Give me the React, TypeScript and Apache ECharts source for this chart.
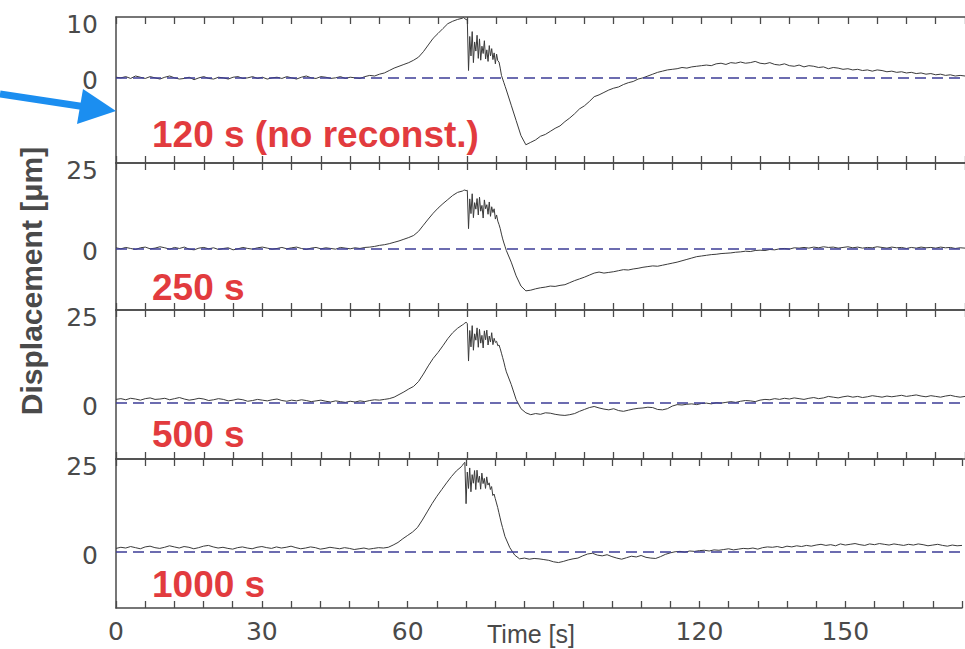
import React, { useEffect, useRef } from "react";
import * as echarts from "echarts";

// Sample instants (s)
const times: number[] = [
  0, 1, 2, 3, 4, 5, 6, 7, 8, 9, 10, 11, 12, 13, 14, 15, 16, 17, 18, 19,
  20, 21, 22, 23, 24, 25, 26, 27, 28, 29, 30, 31, 32, 33, 34, 35, 36, 37, 38, 39,
  40, 41, 42, 43, 44, 45, 46, 47, 48, 49, 50, 51, 52, 53, 54, 55, 56, 57, 58, 59,
  60, 61, 62, 63, 64, 65, 66, 67, 68, 69, 70, 71,
  71.25, 71.5, 71.75, 72, 72.25, 72.5, 72.75, 73, 73.25, 73.5, 73.75, 74,
  74.25, 74.5, 74.75, 75, 75.25, 75.5, 75.75, 76, 76.25, 76.5, 76.75, 77,
  77.25, 77.5, 77.75, 78, 78.25, 78.5, 78.75, 79, 79.25, 79.5, 79.75, 80,
  81, 82, 83, 84, 85, 86, 87, 88, 89, 90, 91, 92, 93, 94, 95, 96, 97, 98, 99, 100,
  101, 102, 103, 104, 105, 106, 107, 108, 109, 110, 111, 112, 113, 114, 115, 116, 117, 118, 119, 120,
  121, 122, 123, 124, 125, 126, 127, 128, 129, 130, 131, 132, 133, 134, 135, 136, 137, 138, 139, 140,
  141, 142, 143, 144, 145, 146, 147, 148, 149, 150, 151, 152, 153, 154, 155, 156, 157, 158, 159, 160,
  161, 162, 163, 164, 165, 166, 167, 168, 169, 170, 171, 172, 173, 174,
];

// Displacement (µm), 120 s (no reconst.)
const disp120: number[] = [
  0.1, 0.0, 0.2, -0.1, 0.3, 0.1, -0.1, 0.2, 0.0, -0.2,
  0.1, 0.3, 0.0, -0.2, -0.1, 0.1, -0.3, 0.0, 0.2, -0.1,
  -0.2, 0.1, 0.0, -0.2, 0.1, 0.2, -0.1, 0.0, 0.2, -0.1,
  0.1, -0.2, 0.0, 0.1, -0.1, 0.2, 0.0, -0.2, 0.1, 0.3,
  0.0, -0.1, 0.2, 0.1, -0.1, 0.0, 0.2, -0.1, 0.1, 0.0,
  -0.1, 0.2, 0.4, 0.3, 0.6, 0.8, 1.2, 1.6, 1.9, 2.2,
  2.5, 2.9, 3.4, 4.3, 5.4, 6.5, 7.3, 8.1, 8.9, 9.3,
  9.6, 9.8,
  9.9, 9.7, 9.6, 9.5, 1.2, 6.8, 3.6, 7.6, 2.5, 5.9, 4.4, 7.0,
  3.2, 6.4, 2.9, 5.2, 4.0, 6.1, 3.1, 4.6, 2.7, 5.3, 3.6, 4.8,
  3.0, 4.1, 2.3, 3.9, 2.8, 2.6, 1.6, 0.4, -0.2, -0.8, -1.4, -2.0,
  -4.5, -7.0, -9.5, -11.0, -10.6, -10.2, -9.6, -9.3, -8.8, -8.3,
  -7.9, -7.2, -6.6, -5.9, -5.1, -4.6, -3.9, -3.1, -2.8, -2.4,
  -2.0, -1.7, -1.5, -1.1, -0.8, -0.6, -0.2, 0.0, 0.3, 0.6,
  0.9, 1.1, 1.3, 1.4, 1.5, 1.7, 1.6, 1.8, 1.9, 2.0,
  2.1, 2.0, 2.3, 2.4, 2.2, 2.5, 2.4, 2.6, 2.4, 2.5,
  2.7, 2.4, 2.3, 2.5, 2.2, 2.1, 2.3, 2.0, 1.9, 2.1,
  1.8, 2.0, 1.9, 1.7, 1.8, 1.5, 1.7, 1.6, 1.4, 1.5,
  1.3, 1.4, 1.2, 1.3, 1.1, 1.3, 1.2, 1.0, 1.1, 0.9,
  1.0, 0.8, 0.9, 0.7, 0.8, 0.6, 0.7, 0.5, 0.6, 0.4,
  0.5, 0.3, 0.4, 0.3,
];

// 250 s
const disp250: number[] = [
  0.2, -0.1, 0.3, 0.0, -0.3, 0.2, 0.4, -0.1, 0.1, 0.5,
  0.2, -0.2, 0.3, 0.0, 0.4, -0.2, -0.4, 0.1, 0.3, -0.1,
  0.2, -0.3, 0.0, 0.2, -0.4, -0.1, 0.3, 0.0, -0.2, 0.2,
  0.4, 0.1, -0.2, 0.0, 0.3, -0.1, 0.2, 0.4, 0.0, -0.3,
  0.1, 0.3, -0.1, 0.2, 0.0, -0.2, 0.3, 0.1, -0.1, 0.2,
  0.0, 0.3, 0.4, 0.6, 0.9, 1.1, 1.4, 1.8, 2.2, 2.7,
  3.2, 3.8, 5.0, 6.8, 8.6, 10.3, 11.8, 13.1, 14.3, 15.5,
  16.4, 16.8,
  17.0, 17.1, 16.9, 17.0, 5.8, 14.5, 10.2, 16.0, 9.0, 13.4, 11.5, 14.6,
  9.8, 15.0, 10.9, 12.6, 8.9, 14.2, 11.6, 12.8, 10.0, 13.6, 9.4, 12.2,
  10.5, 11.6, 8.6, 9.8, 8.0, 7.0, 5.8, 4.2, 2.8, 1.6, 0.5, -0.6,
  -4.0, -8.0, -11.0, -12.4, -12.2, -11.8, -11.5, -11.3, -11.0, -11.1,
  -10.8, -10.6, -10.0, -9.4, -8.9, -8.4, -7.8, -7.2, -6.9, -7.2,
  -7.0, -6.8, -6.5, -6.2, -6.3, -6.0, -5.8, -5.5, -5.3, -5.1,
  -5.2, -4.9, -4.6, -4.3, -4.0, -3.6, -3.2, -2.8, -2.4, -2.2,
  -2.0, -1.8, -1.7, -1.5, -1.4, -1.3, -1.1, -1.0, -0.8, -0.9,
  -0.6, -0.5, -0.6, -0.3, -0.4, -0.1, 0.0, -0.2, 0.2, 0.1,
  0.3, 0.1, 0.4, 0.2, 0.5, 0.3, 0.4, 0.1, 0.3, 0.5,
  0.2, 0.4, 0.1, 0.3, 0.2, 0.5, 0.3, 0.1, 0.4, 0.2,
  0.3, 0.0, 0.3, 0.1, 0.4, 0.2, 0.3, 0.1, 0.4, 0.2,
  0.3, 0.0, 0.2, 0.1,
];

// 500 s
const disp500: number[] = [
  1.0, 1.2, 0.9, 1.3, 1.1, 0.8, 1.2, 1.4, 1.0, 1.1,
  1.3, 0.9, 1.2, 1.5, 1.1, 0.8, 1.0, 1.3, 1.1, 0.7,
  0.9, 1.2, 1.0, 0.6, 0.8, 1.1, 0.9, 0.5, 0.7, 1.0,
  0.8, 0.6, 0.9, 1.1, 0.7, 0.5, 0.8, 0.6, 0.9, 0.7,
  0.4, 0.6, 0.8, 0.5, 0.3, 0.6, 0.4, 0.2, 0.5, 0.3,
  0.6, 0.4, 0.7, 0.9, 0.8, 1.0, 1.2, 1.6, 2.3, 3.0,
  3.8, 4.5, 5.8, 7.8, 10.0, 12.0, 13.6, 15.4, 17.3, 18.9,
  20.1, 21.0,
  21.2, 21.5, 21.7, 21.4, 11.3, 19.5, 15.1, 20.8, 14.2, 18.6, 16.9, 20.2,
  15.0, 19.8, 16.1, 18.2, 14.8, 19.4, 17.0, 19.6, 15.6, 18.0, 16.4, 18.9,
  15.7, 17.4, 16.3, 16.6, 15.4, 15.6, 14.6, 13.4, 12.2, 11.0, 9.6, 8.4,
  5.0, 1.0, -1.5, -2.6, -3.1, -2.8, -3.0, -2.6, -2.7, -3.0,
  -3.2, -3.3, -3.1, -2.8, -2.2, -1.7, -1.2, -0.9, -1.3, -1.6,
  -1.8, -1.5, -2.0, -2.2, -1.9, -1.6, -1.4, -1.3, -1.1, -1.2,
  -1.7, -1.8, -1.5, -0.8, -0.4, -0.5, -0.3, -0.2, -0.4, -0.1,
  0.0, -0.2, 0.1, 0.0, 0.2, 0.4, 0.2, 0.5, 0.7, 0.6,
  0.4, 0.8, 1.0, 0.9, 1.2, 1.0, 1.3, 1.1, 1.4, 1.2,
  1.0, 1.3, 1.5, 1.2, 1.4, 1.8, 1.6, 1.4, 1.7, 1.9,
  1.6, 1.8, 1.5, 1.7, 2.0, 1.8, 1.6, 1.9, 1.7, 1.9,
  2.1, 1.8, 2.0, 2.2, 1.9, 1.7, 2.0, 1.8, 1.6, 1.9,
  2.1, 1.8, 1.6, 1.8,
];

// 1000 s
const disp1000: number[] = [
  1.0, 1.3, 1.1, 1.5, 1.2, 0.9, 1.4, 1.6, 1.2, 1.0,
  1.3, 1.7, 1.4, 1.1, 1.5, 1.3, 0.9, 1.2, 1.6, 1.8,
  1.4, 1.1, 1.3, 1.0, 0.8, 1.2, 1.4, 1.1, 0.9, 1.3,
  1.5, 1.2, 1.0, 1.4, 1.1, 1.3, 1.6, 1.2, 0.9, 1.1,
  1.4, 1.2, 0.8, 1.0, 1.3, 1.1, 0.9, 1.2, 1.0, 0.7,
  0.9, 1.1, 0.8, 1.0, 1.2, 1.1, 1.3, 1.9, 2.6, 3.6,
  4.5, 5.4, 6.6, 8.6, 10.8, 13.0, 15.0, 16.8, 18.6, 20.3,
  21.8, 22.9,
  23.3, 23.8, 24.1, 13.0, 21.5, 17.1, 22.6, 16.2, 20.8, 18.5, 21.9, 16.8,
  22.0, 18.7, 20.4, 16.9, 21.2, 18.4, 19.8, 17.1, 20.2, 18.0, 18.6, 16.8,
  17.6, 15.2, 15.6, 14.4, 13.2, 12.0, 10.6, 9.2, 7.8, 6.6, 5.4, 4.2,
  1.2, -0.8, -1.8, -1.6, -1.9, -1.7, -1.8, -2.0, -2.2, -2.6,
  -2.8, -2.5, -2.1, -1.8, -1.6, -1.0, -0.5, -0.3, -0.8, -1.0,
  -0.7, -1.2, -1.6, -1.9, -1.5, -1.1, -1.3, -0.9, -1.4, -1.6,
  -1.7, -1.2, -0.6, -0.2, 0.1, 0.2, 0.0, 0.3, 0.2, 0.4,
  0.5, 0.3, 0.6, 0.5, 0.7, 0.9, 0.6, 0.8, 1.0, 0.9,
  1.1, 0.8, 1.2, 1.4, 1.3, 1.5, 1.2, 1.6, 1.4, 1.7,
  1.5, 1.8, 1.6, 1.9, 2.1, 1.8, 2.0, 1.7, 2.2, 1.9,
  2.1, 2.3, 2.0, 1.8, 2.2, 2.0, 2.3, 2.1, 1.9, 2.2,
  2.0, 1.8, 2.1, 1.9, 2.2, 2.0, 1.7, 1.9, 2.1, 1.8,
  1.6, 1.9, 1.7, 1.8,
];

const panelSeries = [disp120, disp250, disp500, disp1000];
const panelLabels = ["120 s (no reconst.)", "250 s", "500 s", "1000 s"];
const yMins = [-14, -18, -15, -15];
const yMaxs = [10, 25, 25, 25];
const yTickValues = [[0, 10], [0, 25], [0, 25], [0, 25]];
const xTickLabels = [0, 30, 60, 120, 150];
const xMin = 0;
const xMax = 174;
const xTickStep = 6;
const xTitle = "Time [s]";
const yTitle = "Displacement [\u03bcm]";

const AX = "#4a4a4a";
const TXT = "#4a4a4a";
const RED = "#e23b3e";
const BLUE = "#1b8ef0";
const DASH = "#3c3c96";
const NUMFONT = "DejaVu Sans";
const FONT = "Liberation Sans";

const gridTops = [17, 163, 310, 459];
const gridHeights = [146, 147, 149, 149];
const labelYs = [134, 287, 434, 584];

export default function App() {
  const ref = useRef<HTMLDivElement>(null);
  useEffect(() => {
    if (!ref.current) return;
    const chart = echarts.init(ref.current, undefined, { renderer: "svg" });

    const grids: any[] = [];
    const xAxes: any[] = [];
    const yAxes: any[] = [];
    const series: any[] = [];

    panelSeries.forEach((vals, i) => {
      grids.push({ left: 116, right: 0, top: gridTops[i], height: gridHeights[i] });
      const baseX = {
        type: "value",
        gridIndex: i,
        min: xMin,
        max: xMax,
        interval: xTickStep,
        axisLine: { show: true, onZero: false, lineStyle: { color: AX, width: 1.5 } },
        axisTick: { show: true, inside: true, length: 7, lineStyle: { color: AX, width: 1.3 } },
        splitLine: { show: false },
      };
      xAxes.push({
        ...baseX,
        position: "bottom",
        axisLabel: {
          show: i === panelSeries.length - 1,
          margin: 11,
          fontSize: 25,
          fontFamily: NUMFONT,
          color: TXT,
          formatter: (v: number) => (xTickLabels.indexOf(v) >= 0 ? String(v) : ""),
        },
      });
      xAxes.push({ ...baseX, position: "top", axisLabel: { show: false } });
      yAxes.push({
        type: "value",
        gridIndex: i,
        min: yMins[i],
        max: yMaxs[i],
        axisLine: { show: true, onZero: false, lineStyle: { color: AX, width: 1.5 } },
        axisTick: { show: false },
        splitLine: { show: false },
        axisLabel: { show: false },
      });
      const n = Math.min(times.length, vals.length);
      const data: number[][] = [];
      for (let k = 0; k < n; k++) data.push([times[k], vals[k]]);
      series.push({
        type: "line",
        xAxisIndex: i * 2,
        yAxisIndex: i,
        data,
        showSymbol: false,
        symbol: "none",
        lineStyle: { color: "#3a3a3a", width: 1 },
        z: 3,
        markLine: {
          silent: true,
          symbol: "none",
          label: { show: false },
          lineStyle: { color: DASH, type: [11, 6], width: 1.5 },
          data: [{ yAxis: 0 }],
          z: 4,
        },
      });
    });

    const baseGraphics: any[] = [
      {
        type: "line",
        shape: { x1: 0, y1: 94, x2: 86, y2: 107 },
        style: { stroke: BLUE, lineWidth: 7 },
        z: 100,
      },
      {
        type: "polygon",
        shape: { points: [[83, 89], [116, 111], [77, 124]] },
        style: { fill: BLUE },
        z: 100,
      },
      {
        type: "text",
        x: 31,
        y: 281,
        rotation: Math.PI / 2,
        style: {
          text: yTitle,
          fontSize: 30,
          fontWeight: "bold",
          fontFamily: FONT,
          fill: TXT,
          align: "center",
          verticalAlign: "middle",
        },
        z: 100,
      },
      {
        type: "text",
        x: 531,
        y: 634,
        style: {
          text: xTitle,
          fontSize: 25,
          fontFamily: FONT,
          fill: TXT,
          align: "center",
          verticalAlign: "middle",
        },
        z: 100,
      },
      ...panelLabels.map((t, i) => ({
        type: "text",
        x: 152,
        y: labelYs[i],
        style: {
          text: t,
          fontSize: 37,
          fontWeight: "bold",
          fontFamily: FONT,
          fill: RED,
          align: "left",
          verticalAlign: "middle",
        },
        z: 100,
      })),
    ];

    const option: any = {
      animation: false,
      backgroundColor: "#ffffff",
      grid: grids,
      xAxis: xAxes,
      yAxis: yAxes,
      series,
      graphic: baseGraphics,
    };
    chart.setOption(option);

    // y tick labels placed through the axes' own scales
    const yLabelGraphics: any[] = [];
    yTickValues.forEach((vals, i) => {
      const px = chart.convertToPixel({ xAxisIndex: i * 2 } as any, xMin) as number;
      vals.forEach((v) => {
        const py = chart.convertToPixel({ yAxisIndex: i } as any, v) as number;
        yLabelGraphics.push({
          type: "text",
          x: px - 18,
          y: py + (v === 0 ? 3 : 7),
          style: {
            text: String(v),
            fontSize: 25,
            fontFamily: NUMFONT,
            fill: TXT,
            align: "right",
            verticalAlign: "middle",
          },
          z: 100,
        });
      });
    });
    chart.setOption({ graphic: [...baseGraphics, ...yLabelGraphics] });

    return () => chart.dispose();
  }, []);
  return (
    <div
      ref={ref}
      style={{ position: "absolute", left: 0, top: 0, width: 965, height: 649 }}
    />
  );
}
